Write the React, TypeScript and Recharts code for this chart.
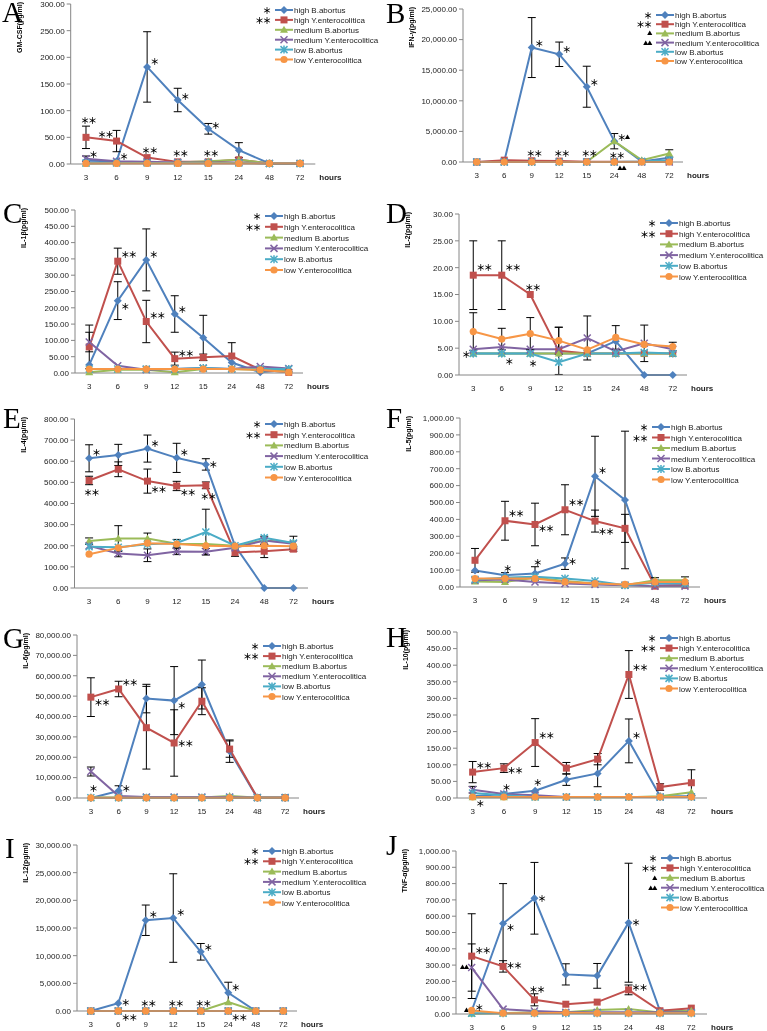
import React from 'react'
import { LineChart, Line, XAxis, YAxis, ErrorBar, ReferenceDot } from 'recharts'

type Star = [string, number, string, 'l' | 'c' | 'r']
type Err = (number | null)[]

const HOURS = ['3', '6', '9', '12', '15', '24', '48', '72']
const SERIES = ['high B.abortus', 'high Y.enterocolitica', 'medium B.abortus', 'medium Y.enterocolitica', 'low B.abortus', 'low Y.enterocolitica']
const COLORS = ['#4F81BD', '#C0504D', '#9BBB59', '#8064A2', '#4BACC6', '#F79646']
const SHAPES = ['diamond', 'square', 'triangle', 'cross', 'star', 'circle']

// A  GM-CSF
const gmcsfTicks = [0, 50, 100, 150, 200, 250, 300]
const gmcsfValues = [
  [6, 5, 182, 120, 66, 26, 1, 1],
  [50, 43, 12, 4, 4, 8, 1, 1],
  [1, 2, 2, 3, 5, 8, 1, 1],
  [10, 5, 4, 3, 3, 3, 1, 1],
  [2, 2, 2, 2, 2, 2, 1, 1],
  [1, 1, 1, 1, 1, 1, 1, 1],
]
const gmcsfErrors: Err[] = [
  [null, null, 66, 22, 10, 14, null, null],
  [21, 20, null, null, null, null, null, null],
  [],
  [5, null, null, null, null, null, null, null],
]
const gmcsfStars: Star[] = [
  ['3', 82, '**', 'c'], ['3', 19, '*', 'r'], ['6', 56, '**', 'l'], ['6', 15, '*', 'r'],
  ['9', 26, '**', 'c'], ['9', 193, '*', 'r'], ['12', 20, '**', 'c'], ['12', 127, '*', 'r'],
  ['15', 20, '**', 'c'], ['15', 73, '*', 'r'],
]

// B  IFN-γ
const ifnTicks = [0, 5000, 10000, 15000, 20000, 25000]
const ifnValues = [
  [0, 100, 18700, 17600, 12300, 3400, 100, 700],
  [0, 300, 200, 150, 50, 50, 50, 50],
  [0, 0, 0, 0, 50, 3400, 300, 1400],
  [0, 0, 0, 0, 0, 0, 0, 0],
  [0, 0, 0, 0, 0, 0, 100, 300],
  [0, 0, 0, 0, 0, 0, 0, 0],
]
const ifnErrors: Err[] = [
  [null, null, 4900, 2000, 3350, 1250, null, null],
  [],
  [null, null, null, null, null, null, null, 600],
]
const ifnStars: Star[] = [
  ['9', 19450, '*', 'r'], ['12', 18460, '*', 'r'], ['15', 13070, '*', 'r'],
  ['9', 1470, '**', 'c'], ['12', 1470, '**', 'c'], ['15', 1470, '**', 'c'], ['24', 1140, '**', 'c'],
  ['24', 4080, '*▲', 'r'], ['24', -980, '▲▲', 'r'],
]

// C  IL-1β
const il1Ticks = [0, 50, 100, 150, 200, 250, 300, 350, 400, 450, 500]
const il1Values = [
  [25, 222, 347, 181, 108, 32, 2, 10],
  [80, 343, 158, 44, 48, 52, 10, 2],
  [2, 10, 10, 2, 12, 12, 10, 10],
  [95, 22, 10, 12, 15, 12, 20, 14],
  [12, 12, 12, 12, 15, 12, 12, 12],
  [12, 12, 12, 12, 12, 12, 10, 2],
]
const il1Errors: Err[] = [
  [null, 58, 95, 56, 69, null, null, null],
  [67, 40, 65, 20, 10, 41, null, null],
  [],
  [30, null, null, null, null, null, null, null],
]
const il1Stars: Star[] = [
  ['6', 365, '**', 'r'], ['6', 205, '*', 'r'], ['9', 365, '*', 'r'], ['9', 178, '**', 'r'],
  ['12', 196, '*', 'r'], ['12', 61, '**', 'r'],
]

// D  IL-2
const il2Ticks = [0, 5, 10, 15, 20, 25, 30]
const il2Values = [
  [4, 4, 4, 4, 4, 6.3, 0, 0],
  [18.6, 18.6, 15, 4.5, 4, 4, 4, 4],
  [4, 4, 4, 4, 4, 4, 4, 4],
  [4.8, 5.2, 4.8, 4.8, 6.9, 4.4, 5.9, 4.8],
  [4, 4, 4, 2.4, 4, 4, 4.2, 4],
  [8.1, 6.7, 7.7, 6.4, 4.7, 7.0, 5.7, 5.3],
]
const il2Errors: Err[] = [
  [],
  [6.4, 6.4, null, 4.4, null, null, null, null],
  [],
  [null, null, null, null, 4.1, null, 3.4, null],
  [],
  [3.5, 2, 3, 2.5, null, 2.2, null, 0.8],
]
const il2Stars: Star[] = [
  ['3', 20.1, '**', 'r'], ['6', 20.1, '**', 'r'], ['9', 16.4, '**', 'c'],
  ['3', 3.9, '*', 'l'], ['6', 2.6, '*', 'r'], ['9', 2.2, '*', 'c'],
]

// E  IL-4
const il4Ticks = [0, 100, 200, 300, 400, 500, 600, 700, 800]
const il4Values = [
  [614, 630, 660, 616, 585, 200, 0, 0],
  [509, 562, 506, 483, 486, 168, 174, 184],
  [222, 234, 234, 210, 208, 200, 225, 215],
  [200, 163, 155, 173, 172, 190, 225, 210],
  [195, 193, 207, 213, 265, 200, 238, 213],
  [160, 190, 212, 208, 200, 198, 200, 198],
]
const il4Errors: Err[] = [
  [64, 50, 64, 69, 27, null, null, null],
  [20, 35, 57, 22, 16, 18, 30, 10],
  [15, 61, 26, 20, null, null, 20, 30],
  [null, 15, 30, 15, 15, null, null, null],
  [null, null, null, null, 108, null, null, null],
]
const il4Stars: Star[] = [
  ['3', 644, '*', 'r'], ['3', 454, '**', 'c'], ['9', 686, '*', 'r'], ['9', 469, '**', 'r'],
  ['12', 644, '*', 'r'], ['12', 454, '**', 'r'], ['15', 587, '*', 'r'], ['15', 435, '**', 'c'],
]

// F  IL-5
const il5Ticks = [0, 100, 200, 300, 400, 500, 600, 700, 800, 900, 1000]
const il5Values = [
  [97, 70, 80, 138, 655, 515, 10, 10],
  [158, 392, 370, 457, 390, 347, 5, 10],
  [32, 30, 55, 35, 20, 10, 40, 40],
  [40, 45, 30, 20, 15, 10, 5, 5],
  [45, 55, 60, 50, 35, 10, 25, 20],
  [50, 50, 50, 30, 20, 15, 30, 30],
]
const il5Errors: Err[] = [
  [null, 15, 40, 34, 237, 407, null, null],
  [70, 115, 126, 148, 65, 83, null, null],
  [null, null, null, null, null, null, 15, 20],
]
const il5Stars: Star[] = [
  ['6', 438, '**', 'r'], ['6', 112, '*', 'c'], ['9', 349, '**', 'r'], ['9', 148, '*', 'c'],
  ['12', 503, '**', 'r'], ['12', 154, '*', 'r'], ['15', 692, '*', 'r'], ['15', 331, '**', 'r'],
]

// G  IL-6
const il6Ticks = [0, 10000, 20000, 30000, 40000, 50000, 60000, 70000, 80000]
const il6Values = [
  [0, 3500, 48800, 47800, 55700, 23000, 0, 0],
  [49500, 53500, 34500, 27000, 47500, 24000, 200, 200],
  [200, 200, 200, 200, 300, 1000, 200, 200],
  [13000, 1000, 500, 500, 500, 500, 200, 200],
  [100, 100, 100, 100, 100, 100, 100, 100],
  [100, 100, 100, 100, 100, 100, 100, 100],
]
const il6Errors: Err[] = [
  [null, 2500, 7000, 16700, 12000, 5500, null, null],
  [9500, 3800, 20300, 16300, 6600, 4000, null, null],
  [],
  [2200, null, null, null, null, null, null, null],
]
const il6Stars: Star[] = [
  ['3', 47100, '**', 'r'], ['3', 4900, '*', 'c'], ['6', 56900, '**', 'r'], ['6', 4900, '*', 'r'],
  ['12', 45600, '*', 'r'], ['12', 27000, '**', 'r'],
]

// H  IL-10
const il10Ticks = [0, 50, 100, 150, 200, 250, 300, 350, 400, 450, 500]
const il10Values = [
  [5, 12, 22, 55, 74, 172, 5, 5],
  [78, 90, 167, 90, 117, 372, 33, 46],
  [2, 2, 2, 2, 2, 2, 5, 17],
  [25, 12, 8, 3, 3, 3, 3, 3],
  [15, 8, 3, 3, 3, 3, 3, 3],
  [3, 3, 3, 3, 3, 3, 3, 3],
]
const il10Errors: Err[] = [
  [null, null, null, 17, 40, 66, null, null],
  [32, 13, 72, 17, 17, 72, 10, 39],
  [],
  [10, null, null, null, null, null, null, null],
]
const il10Stars: Star[] = [
  ['3', 99, '**', 'r'], ['3', -14, '*', 'r'], ['6', 84, '**', 'r'], ['6', 33, '*', 'c'],
  ['9', 190, '**', 'r'], ['9', 48, '*', 'c'], ['24', 394, '**', 'r'], ['24', 190, '*', 'r'],
]

// I  IL-12
const il12Ticks = [0, 5000, 10000, 15000, 20000, 25000, 30000]
const il12Values = [
  [0, 1400, 16400, 16800, 10700, 3300, 0, 0],
  [0, 0, 0, 0, 0, 0, 0, 0],
  [0, 0, 0, 0, 0, 1600, 0, 0],
  [0, 0, 0, 0, 0, 0, 0, 0],
  [0, 0, 0, 0, 0, 0, 0, 0],
  [0, 0, 0, 0, 0, 0, 0, 0],
]
const il12Errors: Err[] = [
  [null, null, 2750, 8000, 1500, 1900, null, null],
]
const il12Stars: Star[] = [
  ['6', 1630, '*', 'r'], ['6', -1080, '**', 'r'], ['9', 17500, '*', 'r'], ['9', 1450, '**', 'c'],
  ['12', 17900, '*', 'r'], ['12', 1450, '**', 'c'], ['15', 11600, '*', 'r'], ['15', 1450, '**', 'c'],
  ['24', 4340, '*', 'r'], ['24', -1080, '**', 'r'],
]

// J  TNF-α
const tnfTicks = [0, 100, 200, 300, 400, 500, 600, 700, 800, 900, 1000]
const tnfValues = [
  [20, 555, 710, 243, 234, 560, 20, 20],
  [355, 292, 87, 60, 73, 148, 20, 36],
  [2, 5, 10, 10, 25, 30, 10, 20],
  [285, 30, 18, 10, 10, 10, 10, 10],
  [5, 5, 5, 5, 5, 5, 5, 5],
  [22, 5, 5, 8, 5, 5, 5, 5],
]
const tnfErrors: Err[] = [
  [null, 245, 220, 65, 76, 365, null, null],
  [260, 35, 37, null, null, 30, null, null],
  [],
  [145, null, null, null, null, null, null, null],
]
const tnfStars: Star[] = [
  ['3', 393, '**', 'r'], ['3', 288, '▲▲', 'l'], ['3', 25, '▲', 'l'], ['3', 43, '*', 'r'],
  ['6', 534, '*', 'r'], ['6', 300, '**', 'r'], ['9', 712, '*', 'r'], ['9', 153, '**', 'c'],
  ['24', 564, '*', 'r'], ['24', 166, '**', 'r'],
]

const MARKS2 = ['*', '**']
const MARKS4 = ['*', '**', '▲', '▲▲']

interface PanelSpec {
  letter: string
  yLabel: string
  values: number[][]
  errors: Err[]
  ticks: number[]
  stars: Star[]
  marks: string[]
  ox: number
  left: number
  right: number
  top: number
  bottom: number
  legendX: number
  legendY: number
  rowH: number
  letterX: number
  letterY: number
}

const PANELS: PanelSpec[] = [
  { letter: 'A', yLabel: 'GM-CSF(pg/ml)', values: gmcsfValues, errors: gmcsfErrors, ticks: gmcsfTicks, stars: gmcsfStars, marks: MARKS2,
    ox: 0, left: 70.7, right: 315.3, top: 4, bottom: 164, legendX: 275, legendY: 10, rowH: 9.9, letterX: 2, letterY: 2 },
  { letter: 'B', yLabel: 'IFN-γ(pg/ml)', values: ifnValues, errors: ifnErrors, ticks: ifnTicks, stars: ifnStars, marks: MARKS4,
    ox: 383, left: 463, right: 683, top: 9, bottom: 162, legendX: 656, legendY: 15, rowH: 9.2, letterX: 386, letterY: 3 },
  { letter: 'C', yLabel: 'IL-1β(pg/ml)', values: il1Values, errors: il1Errors, ticks: il1Ticks, stars: il1Stars, marks: MARKS2,
    ox: 0, left: 75, right: 303, top: 210, bottom: 373, legendX: 265, legendY: 216, rowH: 10.8, letterX: 3, letterY: 203 },
  { letter: 'D', yLabel: 'IL-2(pg/ml)', values: il2Values, errors: il2Errors, ticks: il2Ticks, stars: il2Stars, marks: MARKS2,
    ox: 383, left: 459, right: 687, top: 214, bottom: 375, legendX: 660, legendY: 223, rowH: 10.7, letterX: 386, letterY: 203 },
  { letter: 'E', yLabel: 'IL-4(pg/ml)', values: il4Values, errors: il4Errors, ticks: il4Ticks, stars: il4Stars, marks: MARKS2,
    ox: 0, left: 74.5, right: 308, top: 419, bottom: 588, legendX: 265, legendY: 424, rowH: 10.7, letterX: 3, letterY: 408 },
  { letter: 'F', yLabel: 'IL-5(pg/ml)', values: il5Values, errors: il5Errors, ticks: il5Ticks, stars: il5Stars, marks: MARKS2,
    ox: 383, left: 460, right: 700, top: 418, bottom: 587, legendX: 652, legendY: 427, rowH: 10.5, letterX: 386, letterY: 408 },
  { letter: 'G', yLabel: 'IL-6(pg/ml)', values: il6Values, errors: il6Errors, ticks: il6Ticks, stars: il6Stars, marks: MARKS2,
    ox: 0, left: 77, right: 299, top: 635, bottom: 798, legendX: 263, legendY: 646, rowH: 10.1, letterX: 3, letterY: 628 },
  { letter: 'H', yLabel: 'IL-10(pg/ml)', values: il10Values, errors: il10Errors, ticks: il10Ticks, stars: il10Stars, marks: MARKS2,
    ox: 383, left: 457, right: 707, top: 632, bottom: 798, legendX: 660, legendY: 638, rowH: 10.1, letterX: 386, letterY: 627 },
  { letter: 'I', yLabel: 'IL-12(pg/ml)', values: il12Values, errors: il12Errors, ticks: il12Ticks, stars: il12Stars, marks: MARKS2,
    ox: 0, left: 77, right: 297, top: 845, bottom: 1011, legendX: 263, legendY: 851, rowH: 10.3, letterX: 5, letterY: 838 },
  { letter: 'J', yLabel: 'TNF-α(pg/ml)', values: tnfValues, errors: tnfErrors, ticks: tnfTicks, stars: tnfStars, marks: MARKS4,
    ox: 383, left: 456, right: 707, top: 851, bottom: 1014, legendX: 661, legendY: 858, rowH: 9.9, letterX: 386, letterY: 835 },
]

const SANS = '"Liberation Sans", Arial, sans-serif'
const STAR_FONT = '"Noto Sans CJK SC", "DejaVu Sans", sans-serif'
const AXIS = '#868686'
const INK = '#222'

const fmt = (v: number) => v.toLocaleString('en-US', { minimumFractionDigits: 2, maximumFractionDigits: 2 })

function Marker({ shape, cx, cy, color }: { shape: string; cx: number; cy: number; color: string }) {
  switch (shape) {
    case 'diamond':
      return <polygon points={`${cx},${cy - 4} ${cx + 4},${cy} ${cx},${cy + 4} ${cx - 4},${cy}`} fill={color} />
    case 'square':
      return <rect x={cx - 3.5} y={cy - 3.5} width={7} height={7} fill={color} />
    case 'triangle':
      return <polygon points={`${cx},${cy - 4} ${cx + 4},${cy + 3} ${cx - 4},${cy + 3}`} fill={color} />
    case 'cross':
      return <path d={`M${cx - 3.5},${cy - 3.5}L${cx + 3.5},${cy + 3.5}M${cx - 3.5},${cy + 3.5}L${cx + 3.5},${cy - 3.5}`} stroke={color} strokeWidth={1.5} />
    case 'star':
      return <path d={`M${cx - 3.5},${cy - 3.5}L${cx + 3.5},${cy + 3.5}M${cx - 3.5},${cy + 3.5}L${cx + 3.5},${cy - 3.5}M${cx},${cy - 4}L${cx},${cy + 4}`} stroke={color} strokeWidth={1.5} />
    default:
      return <circle cx={cx} cy={cy} r={3.6} fill={color} />
  }
}

function starSpans(t: string) {
  return t.split('').map((c, i) =>
    c === '▲' ? <tspan key={i} fontSize={5.5}>▲</tspan> : <tspan key={i}>＊</tspan>
  )
}

function StarText({ cx, cy, text, side }: { cx: number; cy: number; text: string; side: string }) {
  const anchor = side === 'r' ? 'start' : side === 'l' ? 'end' : 'middle'
  const x = side === 'r' ? cx + 3 : side === 'l' ? cx - 4 : cx + 2
  return (
    <text x={x} y={cy} textAnchor={anchor} dominantBaseline="central" fontFamily={STAR_FONT}
      fontSize={9} fontWeight="bold" letterSpacing={-1.5} fill="#000">
      {starSpans(text)}
    </text>
  )
}

function PanelLegend({ p }: { p: PanelSpec }) {
  return (
    <svg style={{ position: 'absolute', left: p.legendX - 40, top: p.legendY - 6, overflow: 'visible' }} width={140} height={70}>
      {SERIES.map((name, k) => {
        const y = 6 + k * p.rowH
        return (
          <g key={k}>
            {p.marks[k] && (
              <text x={35} y={y} textAnchor="end" dominantBaseline="central" fontFamily={STAR_FONT}
                fontSize={9} fontWeight="bold" letterSpacing={-1.5} fill="#000">{starSpans(p.marks[k])}</text>
            )}
            <line x1={40} x2={58} y1={y} y2={y} stroke={COLORS[k]} strokeWidth={2} />
            <Marker shape={SHAPES[k]} cx={49} cy={y} color={COLORS[k]} />
            <text x={59} y={y + 3} fontFamily={SANS} fontSize={8} fill={INK}>{name}</text>
          </g>
        )
      })}
    </svg>
  )
}

function Panel({ p }: { p: PanelSpec }) {
  const rows = HOURS.map((h, i) => {
    const r: Record<string, string | number | null> = { hour: h }
    p.values.forEach((s, k) => {
      r['v' + k] = s[i]
      r['e' + k] = p.errors[k] ? p.errors[k][i] ?? null : null
    })
    return r
  })
  const chartTop = p.top - 12
  const height = p.bottom - p.top + 12 + 30
  const bw = (p.right - p.left) / HOURS.length
  const yMax = p.ticks[p.ticks.length - 1]
  return (
    <>
      <svg style={{ position: 'absolute', left: p.letterX, top: p.letterY, overflow: 'visible' }} width={24} height={22}>
        <text x={0} y={20} fontFamily='"Liberation Serif", serif' fontSize={29} fill="#000">{p.letter}</text>
      </svg>
      <div style={{ position: 'absolute', left: p.ox, top: chartTop }}>
        <LineChart width={384} height={height} data={rows}
          margin={{ top: 12, right: p.ox + 384 - p.right, left: 0, bottom: 10 }}>
          <XAxis dataKey="hour" height={20} padding={{ left: bw / 2, right: bw / 2 }} stroke={AXIS}
            tickLine={false} tickMargin={4} tick={{ fontSize: 8, fill: INK, fontFamily: SANS }}
            label={{
              content: (lp: any) => {
                const vb = lp.viewBox
                return <text x={vb.x + vb.width + 4} y={vb.y + 16} fontFamily={SANS} fontSize={8} fontWeight="bold" fill={INK}>hours</text>
              },
            }} />
          <YAxis type="number" domain={[0, yMax]} ticks={p.ticks} interval={0} width={p.left - p.ox} stroke={AXIS}
            tickSize={4} tickMargin={2} tickFormatter={fmt} tick={{ fontSize: 8, fill: INK, fontFamily: SANS }}
            label={{
              content: (lp: any) => {
                const vb = lp.viewBox
                const x = vb.x + vb.width - 49
                const y = vb.y - 2
                return <text x={x} y={y} transform={`rotate(-90 ${x} ${y})`} textAnchor="end" fontFamily={SANS} fontSize={7} fontWeight="bold" fill="#000">{p.yLabel}</text>
              },
            }} />
          {p.values.map((_, k) => (
            <Line key={k} dataKey={'v' + k} stroke={COLORS[k]} strokeWidth={2} isAnimationActive={false} type="linear"
              dot={(d: any) => <Marker key={d.index} shape={SHAPES[k]} cx={d.cx} cy={d.cy} color={COLORS[k]} />}
              activeDot={false}>
              <ErrorBar dataKey={'e' + k} width={4} stroke="#000" strokeWidth={1} direction="y" />
            </Line>
          ))}
          {p.stars.map(([h, v, t, side], i) => (
            <ReferenceDot key={i} x={h} y={v} r={0} ifOverflow="visible"
              shape={(d: any) => <StarText cx={d.cx} cy={d.cy} text={t} side={side} />} />
          ))}
        </LineChart>
      </div>
      <PanelLegend p={p} />
    </>
  )
}

export default function App() {
  return (
    <div style={{ position: 'absolute', left: 0, top: 0, width: 767, height: 1031, background: '#fff', overflow: 'hidden', willChange: 'transform' }}>
      {PANELS.map((p) => <Panel key={p.letter} p={p} />)}
    </div>
  )
}
